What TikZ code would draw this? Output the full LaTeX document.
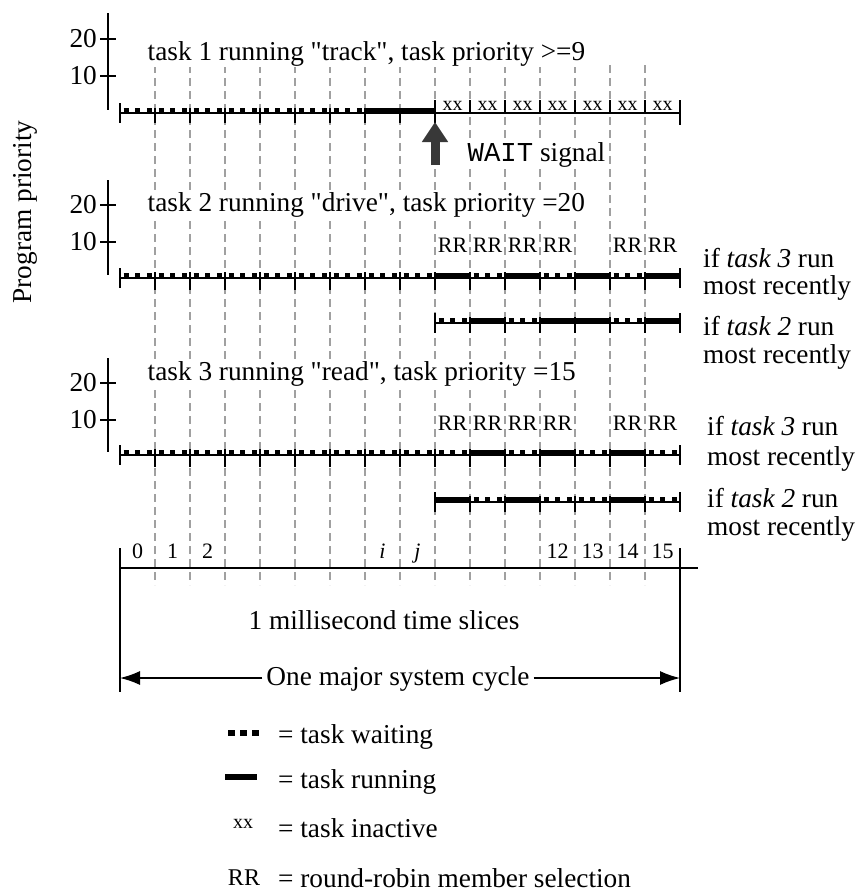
\documentclass[tikz,border=0pt]{standalone}
\usepackage{fontspec}
\setmainfont{Liberation Serif}[Ligatures=TeXOff]
\setmonofont{Liberation Mono}
\usetikzlibrary{arrows.meta}
\newcommand\msz{\fontsize{27.3pt}{29pt}\selectfont}
\newcommand\ssz{\fontsize{22pt}{24pt}\selectfont}
\newcommand\xsz{\fontsize{20pt}{22pt}\selectfont}
\definecolor{gridgray}{HTML}{A0A0A0}
\definecolor{arrowgray}{HTML}{383838}
% draw slices 9..15 of a timeline: 1 = running, 0 = waiting
\newcommand\mytline[2]{%
  \foreach \t [count=\k from 9] in {#2} {%
    \ifnum\t=1
      \draw[runln] ({120+35*\k},#1-2.5) -- ({155+35*\k},#1-2.5);
    \else
      \draw[waitln] ({123.5+35*\k},#1-2.5) -- ({155+35*\k},#1-2.5);
    \fi
  }%
}
\begin{document}
\begin{tikzpicture}[x=1pt,y=-1pt,
  gridln/.style={gridgray, line width=1.8pt, dash pattern=on 8pt off 5pt},
  axis/.style={line width=1.6pt},
  baseln/.style={line width=1.3pt},
  waitln/.style={line width=5pt, dash pattern=on 5pt off 6.667pt},
  runln/.style={line width=6pt},
  tk/.style={line width=1.8pt},
  lbl/.style={font=\msz, inner sep=0pt},
  titlebox/.style={font=\msz, inner sep=1.5pt, fill=white, anchor=base west},
  rr/.style={font=\ssz, inner sep=0pt, anchor=base},
  xx/.style={font=\xsz, inner sep=0pt, anchor=base},
  num/.style={font=\msz, inner sep=0pt, anchor=east}
]
\useasboundingbox (0,0) rectangle (857,895);

% vertical dashed grid lines
\foreach \i in {1,...,15} \draw[gridln] ({120+35*\i},65) -- ({120+35*\i},585);

% ---------- priority axes ----------
\node[lbl, rotate=90] (pp) at (25,212) {Program priority};
% task 1
\draw[axis] (108,13) -- (108,110);
\draw[axis] (100,39) -- (116,39); \draw[axis] (100,76) -- (116,76);
\node[num] (a1t) at (97,39) {20};
\node[num] (a1b) at (97,76) {10};
% task 2
\draw[axis] (108,180) -- (108,275);
\draw[axis] (100,205) -- (116,205); \draw[axis] (100,242) -- (116,242);
\node[num] (a2t) at (97,205) {20};
\node[num] (a2b) at (97,242) {10};
% task 3
\draw[axis] (108,358) -- (108,452);
\draw[axis] (100,383) -- (116,383); \draw[axis] (100,420) -- (116,420);
\node[num] (a3t) at (97,383) {20};
\node[num] (a3b) at (97,420) {10};

% ---------- task 1 timeline (Y=113) ----------
\draw[baseln] (120,113) -- (680,113);
\draw[waitln] (123.5,110.5) -- (365,110.5);
\draw[runln] (365,110.5) -- (435,110.5);
\draw[tk] (120,103) -- (120,123);
\foreach \i in {1,...,8} \draw[tk] ({120+35*\i},108) -- ({120+35*\i},123);
\draw[tk] (435,100) -- (435,123);
\foreach \i in {10,...,15} \draw[tk] ({120+35*\i},100) -- ({120+35*\i},114);
\draw[tk] (680,100) -- (680,125);
\foreach \i in {9,...,15} \node[xx] at ({137.5+35*\i},110) {xx};

% WAIT arrow
\draw[arrowgray, line width=9pt, -{Triangle[width=25pt,length=20pt]}] (435,165) -- (435,122);
\node[titlebox, font=\msz] (wait) at (466,161) {{\ttfamily WAIT} signal};

% ---------- task 2 timelines ----------
\draw[baseln] (120,278) -- (680,278);
\draw[waitln] (123.5,275.5) -- (435,275.5);
\mytline{278}{1,0,1,0,1,0,1}
\draw[tk] (120,268) -- (120,288);
\foreach \i in {1,...,15} \draw[tk] ({120+35*\i},272) -- ({120+35*\i},290);
\draw[tk] (680,268) -- (680,288);

\draw[baseln] (435,323) -- (680,323);
\mytline{323}{0,1,0,1,1,0,1}
\draw[tk] (435,313) -- (435,333);
\foreach \i in {10,...,15} \draw[tk] ({120+35*\i},317) -- ({120+35*\i},333);
\draw[tk] (680,313) -- (680,333);

\foreach \i in {9,10,11,12,14,15} \node[rr] at ({137.5+35*\i},252) {RR};

% ---------- task 3 timelines ----------
\draw[baseln] (120,455) -- (680,455);
\draw[waitln] (123.5,452.5) -- (435,452.5);
\mytline{455}{0,1,0,1,0,1,0}
\draw[tk] (120,445) -- (120,465);
\foreach \i in {1,...,15} \draw[tk] ({120+35*\i},449) -- ({120+35*\i},467);
\draw[tk] (680,445) -- (680,465);

\draw[baseln] (435,502) -- (680,502);
\mytline{502}{1,0,1,0,0,1,0}
\draw[tk] (435,492) -- (435,512);
\foreach \i in {10,...,15} \draw[tk] ({120+35*\i},496) -- ({120+35*\i},512);
\draw[tk] (680,492) -- (680,512);

\foreach \i in {9,10,11,12,14,15} \node[rr] at ({137.5+35*\i},430) {RR};

% ---------- titles ----------
\node[titlebox] (t1) at (146,60) {task 1 running "track", task priority >=9};
\node[titlebox] (t2) at (146,211) {task 2 running "drive", task priority =20};
\node[titlebox] (t3) at (146,380) {task 3 running "read", task priority =15};

% ---------- right-hand labels ----------
\node[lbl, anchor=base west] (r1a) at (703,267) {if \textit{task 3} run};
\node[lbl, anchor=base west] (r1b) at (703,294) {most recently};
\node[lbl, anchor=base west] (r2a) at (703,335) {if \textit{task 2} run};
\node[lbl, anchor=base west] (r2b) at (703,363) {most recently};
\node[lbl, anchor=base west] (r3a) at (707,435) {if \textit{task 3} run};
\node[lbl, anchor=base west] (r3b) at (707,465) {most recently};
\node[lbl, anchor=base west] (r4a) at (707,507) {if \textit{task 2} run};
\node[lbl, anchor=base west] (r4b) at (707,535) {most recently};

% ---------- time axis ----------
\draw[axis] (120,548) -- (120,692);
\draw[axis] (680,548) -- (680,692);
\draw[axis] (120,568) -- (698,568);
\foreach \n/\s in {0/0,1/1,2/2,7/\textit{i},8/\textit{j},12/12,13/13,14/14,15/15}
  \node[rr] at ({137.5+35*\n},558) {\s};

\node[lbl, anchor=base] (ms) at (384,629) {1 millisecond time slices};
\node[lbl, anchor=base, inner sep=4pt] (cyc) at (398,685) {One major system cycle};
\coordinate (cl) at (120,678);
\coordinate (cr) at (680,678);
\draw[line width=1.5pt, -{Latex[length=20pt,width=14pt]}] (cyc.west |- cl) -- (cl);
\draw[line width=1.5pt, -{Latex[length=20pt,width=14pt]}] (cyc.east |- cr) -- (cr);

% ---------- legend ----------
\draw[line width=6pt, dash pattern=on 7pt off 5pt] (228,733) -- (259,733);
\node[lbl, anchor=base west] (lw) at (278,743) {= task waiting};
\draw[line width=5.5pt] (225,777) -- (257,777);
\node[lbl, anchor=base west] (lr) at (278,788) {= task running};
\node[xx] (lxx) at (243,828) {xx};
\node[lbl, anchor=base west] (li) at (278,837) {= task inactive};
\node[rr, font=\fontsize{24pt}{26pt}\selectfont] (lrr) at (244,885) {RR};
\node[lbl, anchor=base west] (lrs) at (278,887) {= round-robin member selection};
\end{tikzpicture}
\end{document}
